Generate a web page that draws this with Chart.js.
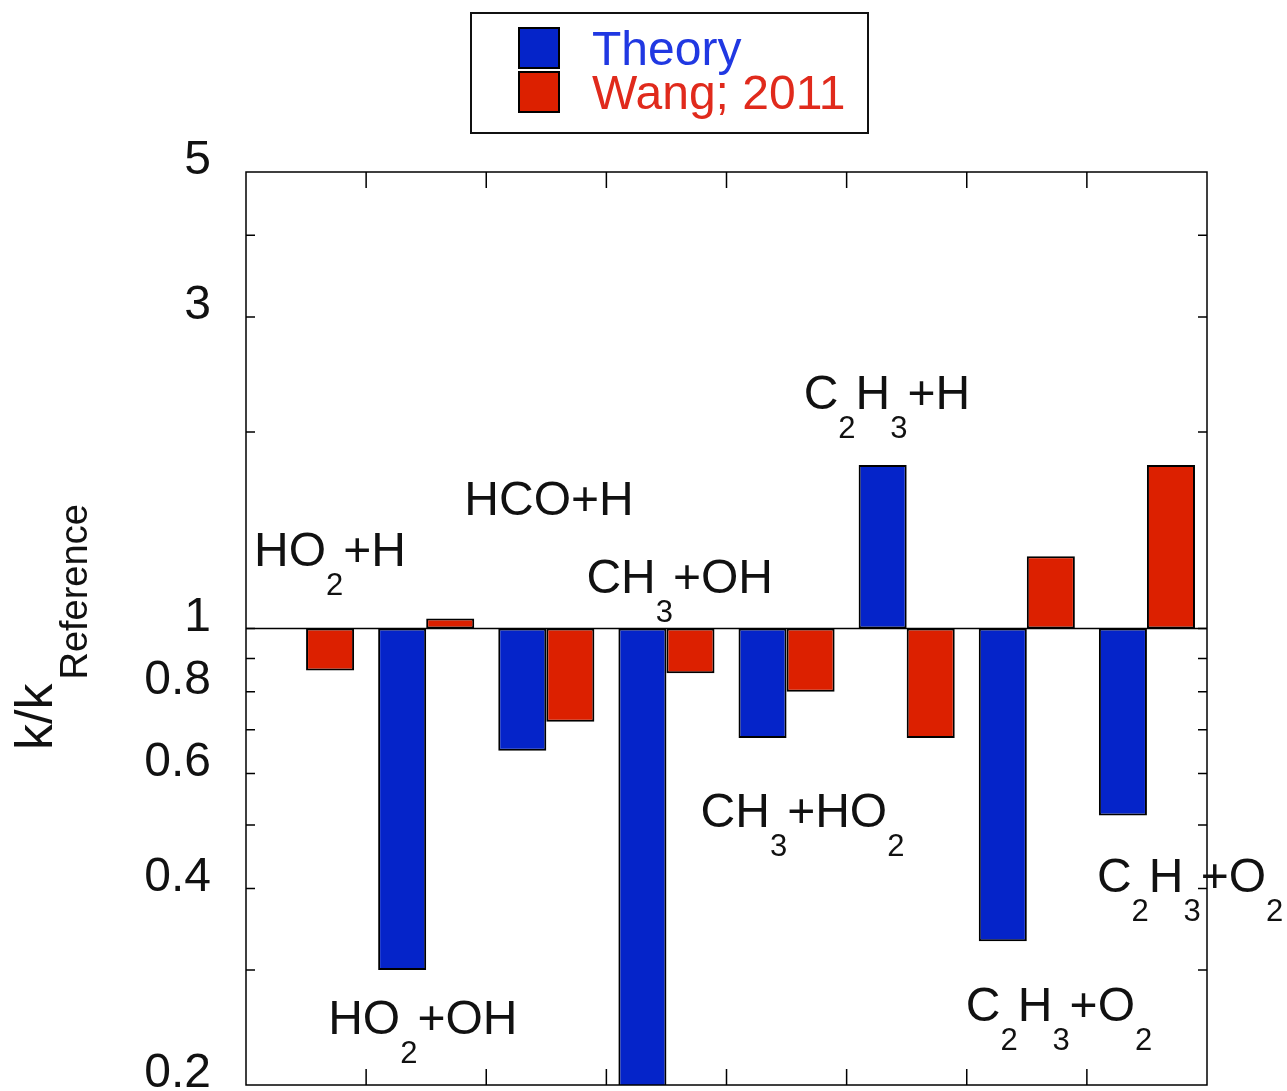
<!DOCTYPE html>
<html>
<head>
<meta charset="utf-8">
<title>k/k Reference</title>
<script src="https://cdn.jsdelivr.net/npm/chart.js@4.4.1/dist/chart.umd.min.js"></script>
<style>
    body { margin: 0; background: #fff; }
    canvas { display: block; }
</style>
</head>
<body>
<canvas id="myChart" width="1287" height="1091"></canvas>
<script>
        // chart data
        const categories = ["HO2+H", "HO2+OH", "HCO+H", "CH3+OH", "CH3+HO2", "C2H3+H", "C2H3+O2 (a)", "C2H3+O2 (b)"];
        const theory = [null, 0.30, 0.65, 0.19, 0.68, 1.78, 0.332, 0.517];
        const wang = [0.862, 1.036, 0.72, 0.854, 0.80, 0.68, 1.29, 1.78];
        const baseValue = 1;

        const tickValues = [0.2, 0.3, 0.4, 0.5, 0.6, 0.7, 0.8, 0.9, 1, 2, 3, 4, 5];
        const labeledTicks = [0.2, 0.4, 0.6, 0.8, 1, 3, 5];

        // reaction labels: [text, subscript] pieces, category index, y value of the baseline
        const reactionLabels = [
            { parts: [["HO", 0], ["2", 1], ["+H", 0]], cat: 0, dx: -52, y: 1.247 },
            { parts: [["HCO+H", 0]], cat: 2, dx: -82, y: 1.492 },
            { parts: [["CH", 0], ["3", 1], ["+OH", 0]], cat: 3, dx: -80, y: 1.135 },
            { parts: [["C", 0], ["2", 1], ["H", 0], ["3", 1], ["+H", 0]], cat: 5, dx: -103, y: 2.165 },
            { parts: [["HO", 0], ["2", 1], ["+OH", 0]], cat: 1, dx: -98, y: 0.2397 },
            { parts: [["CH", 0], ["3", 1], ["+HO", 0], ["2", 1]], cat: 4, dx: -86, y: 0.497 },
            { parts: [["C", 0], ["2", 1], ["H", 0], ["3", 1], ["+O", 0], ["2", 1]], cat: 6, dx: -61, y: 0.2508 },
            { parts: [["C", 0], ["2", 1], ["H", 0], ["3", 1], ["+O", 0], ["2", 1]], cat: 7, dx: -50, y: 0.3945 }
        ];

        const blue = "#0524c9";
        const red = "#dc2000";
        const fontFamily = "'Liberation Sans', Arial, Helvetica, sans-serif";

        // draw text with subscripts, left to right
        function drawFormula(ctx, parts, x, y, size, subSize, subDrop) {
            ctx.textAlign = "left";
            ctx.textBaseline = "alphabetic";
            parts.forEach(p => {
                let isSub = p[1] === 1;
                ctx.font = (isSub ? subSize : size) + "px " + fontFamily;
                ctx.fillText(p[0], x, isSub ? y + subDrop : y);
                x += ctx.measureText(p[0]).width;
            });
        }

        // frame, ticks and the line at 1
        const framePlugin = {
            id: "frame",
            afterDatasetsDraw(chart) {
                const ctx = chart.ctx;
                const area = chart.chartArea;
                const xScale = chart.scales.x;
                const yScale = chart.scales.y;
                ctx.save();
                ctx.strokeStyle = "#000";

                // line at 1
                ctx.lineWidth = 1.5;
                let y1 = yScale.getPixelForValue(baseValue);
                ctx.beginPath();
                ctx.moveTo(area.left, y1);
                ctx.lineTo(area.right, y1);
                ctx.stroke();

                // x ticks between categories, top and bottom
                for (let i = 1; i < categories.length; i++) {
                    let x = (xScale.getPixelForValue(i - 1) + xScale.getPixelForValue(i)) / 2;
                    ctx.beginPath();
                    ctx.moveTo(x, area.top);
                    ctx.lineTo(x, area.top + 16);
                    ctx.moveTo(x, area.bottom);
                    ctx.lineTo(x, area.bottom - 16);
                    ctx.stroke();
                }

                // y ticks left and right
                tickValues.forEach(v => {
                    if (v === 0.2 || v === 5) return;
                    let y = yScale.getPixelForValue(v);
                    ctx.beginPath();
                    ctx.moveTo(area.left, y);
                    ctx.lineTo(area.left + 9, y);
                    ctx.moveTo(area.right, y);
                    ctx.lineTo(area.right - 9, y);
                    ctx.stroke();
                });

                // frame
                ctx.strokeRect(area.left, area.top, area.right - area.left, area.bottom - area.top);
                ctx.restore();
            },
            afterDraw(chart) {
                const ctx = chart.ctx;
                const xScale = chart.scales.x;
                const yScale = chart.scales.y;
                ctx.save();

                // reaction names
                ctx.fillStyle = "#111";
                reactionLabels.forEach(l => {
                    let x = xScale.getPixelForValue(l.cat) + l.dx;
                    let y = yScale.getPixelForValue(l.y);
                    drawFormula(ctx, l.parts, x, y, 48, 31, 29);
                });

                // y axis title, rotated
                ctx.save();
                ctx.translate(52, 750);
                ctx.rotate(-Math.PI / 2);
                ctx.fillStyle = "#111";
                ctx.textBaseline = "alphabetic";
                ctx.font = "52px " + fontFamily;
                ctx.fillText("k/k", 0, 0);
                let w = ctx.measureText("k/k").width;
                ctx.font = "38px " + fontFamily;
                ctx.fillText("Reference", w + 4, 35);
                ctx.restore();

                // legend box
                ctx.fillStyle = "#fff";
                ctx.fillRect(471, 13, 397, 120);
                ctx.strokeStyle = "#111";
                ctx.lineWidth = 2;
                ctx.strokeRect(471, 13, 397, 120);
                let rows = [
                    { label: chart.data.datasets[0].label, color: blue, text: "#2038e2", y: 28, base: 65 },
                    { label: chart.data.datasets[1].label, color: red, text: "#e02a1c", y: 72, base: 109 }
                ];
                rows.forEach(r => {
                    ctx.fillStyle = r.color;
                    ctx.fillRect(519, r.y, 40, 40);
                    ctx.strokeStyle = "#000";
                    ctx.lineWidth = 2;
                    ctx.strokeRect(519, r.y, 40, 40);
                    ctx.fillStyle = r.text;
                    ctx.font = "48px " + fontFamily;
                    ctx.textAlign = "left";
                    ctx.textBaseline = "alphabetic";
                    ctx.fillText(r.label, 592, r.base);
                });

                ctx.restore();
            }
        };

        function displayChart() {
            const ctx = document.getElementById("myChart").getContext("2d");
            const myChart = new Chart(ctx, {
                type: "bar",
                data: {
                    labels: categories,
                    datasets: [{
                        label: "Theory",
                        data: theory.map(v => v === null ? null : [baseValue, v]),
                        backgroundColor: blue,
                        borderColor: "#000",
                        borderWidth: 2,
                        borderSkipped: false,
                        clip: 0
                    }, {
                        label: "Wang; 2011",
                        data: wang.map(v => [baseValue, v]),
                        backgroundColor: red,
                        borderColor: "#000",
                        borderWidth: 2,
                        borderSkipped: false,
                        clip: 0
                    }]
                },
                options: {
                    responsive: false,
                    animation: false,
                    categoryPercentage: 0.8,
                    barPercentage: 1.0,
                    layout: {
                        padding: { top: 172, right: 80, bottom: 6, left: 0 }
                    },
                    plugins: {
                        legend: { display: false },
                        tooltip: { enabled: false }
                    },
                    scales: {
                        x: {
                            display: false
                        },
                        y: {
                            type: "logarithmic",
                            min: 0.2,
                            max: 5,
                            afterBuildTicks: scale => {
                                scale.ticks = tickValues.map(v => ({ value: v }));
                            },
                            afterFit: scale => {
                                scale.width = 246;
                                scale.paddingTop = 0;
                                scale.paddingBottom = 0;
                            },
                            grid: { display: false },
                            border: { display: false },
                            ticks: {
                                color: "#111",
                                padding: 27,
                                labelOffset: -11,
                                autoSkip: false,
                                font: { family: fontFamily, size: 48 },
                                callback: value => labeledTicks.includes(value) ? String(value) : ""
                            }
                        }
                    }
                },
                plugins: [framePlugin]
            });
            return myChart;
        }

        let myChart = displayChart();
</script>
</body>
</html>
